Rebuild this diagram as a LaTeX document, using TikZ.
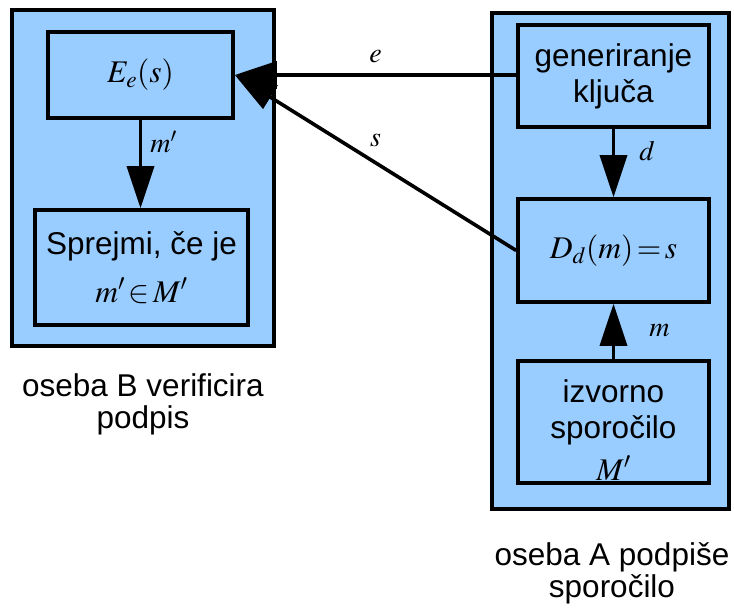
\documentclass[tikz,border=0pt]{standalone}
\usepackage{mathptmx}
\usepackage{fontspec}
\setmainfont{Liberation Sans}
\usetikzlibrary{arrows.meta}
\definecolor{boxblue}{HTML}{99CCFF}
\tikzset{
  panel/.style={draw=black, fill=boxblue, line width=3.6pt, inner sep=0pt},
  stage/.style={draw=black, fill=boxblue, line width=3.6pt, inner sep=0pt, align=center,
    font=\fontsize{31.5}{36}\selectfont},
  flow/.style={line width=3.6pt, -{Triangle[length=42pt,width=27pt]}},
  tag/.style={inner sep=0pt, font=\fontsize{28}{32}\selectfont},
  caption/.style={inner sep=0pt, align=center, font=\fontsize{31.5}{32}\selectfont}
}
\begin{document}
\begin{tikzpicture}[x=1pt,y=-1pt]
\useasboundingbox (0,0) rectangle (734,608);
% two actors
\node[panel, minimum width=262pt, minimum height=336pt] (B) at (143,178) {};
\node[panel, minimum width=237pt, minimum height=496pt] (A) at (610.5,261) {};
% verifier side
\node[stage, minimum width=185pt, minimum height=86pt] (E) at (140.5,75)
  {$\fontsize{28}{32}\selectfont E_e(s)$};
\node[stage, minimum width=213pt, minimum height=115pt] (S) at (141.5,267.5)
  {Sprejmi, če je\\[12pt]$\fontsize{28}{32}\selectfont m'\!\in\! M'$};
% signer side
\node[stage, minimum width=191pt, minimum height=102pt] (G) at (613.5,76)
  {generiranje\\ključa};
\node[stage, minimum width=191pt, minimum height=103pt] (D) at (613.5,250.5)
  {$\fontsize{28}{32}\selectfont D_d(m)\!=\!s$};
\node[stage, minimum width=191pt, minimum height=122pt] (I) at (613.5,422)
  {\rule{0pt}{38pt}izvorno\\sporočilo\\[6pt]$\fontsize{28}{32}\selectfont M'$};
% connectors
\draw[flow] (E.south) -- (E.south |- S.north) node[tag, pos=0.25, right=8pt] {$m'$};
\draw[flow] (G.south) -- (D.north) node[tag, pos=0.33, right=24pt] {$d$};
\draw[flow] (I.north) -- (D.south) node[tag, pos=0.52, right=34pt] {$m$};
\draw[flow] (G.west |- E.east) -- (E.east) node[tag, pos=0.5, above=10pt] {$e$};
\draw[flow] (D.west) -- (E.east) node[tag, pos=0.5, above=14pt] {$s$};
% captions
\node[caption] (capB) at (143,404) {oseba B verificira\\podpis};
\node[caption] (capA) at (612,573) {oseba A podpiše\\sporočilo};
\end{tikzpicture}
\end{document}
